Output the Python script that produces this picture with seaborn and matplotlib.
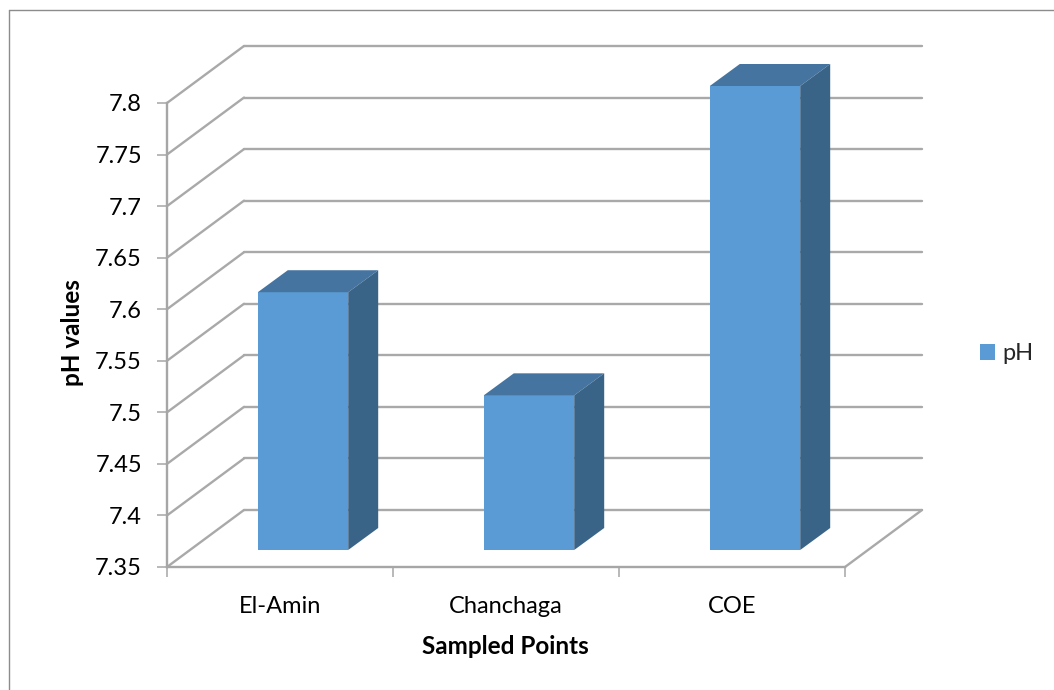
import matplotlib
matplotlib.use("Agg")
import matplotlib.pyplot as plt
import pandas as pd
import seaborn as sns
from matplotlib.lines import Line2D
from matplotlib.patches import Polygon
from matplotlib.transforms import Affine2D

# Sampled values
sites = ["El-Amin", "Chanchaga", "COE"]
ph_values = [7.6, 7.5, 7.8]
y_ticks = [7.35, 7.4, 7.45, 7.5, 7.55, 7.6, 7.65, 7.7, 7.75, 7.8]
y_tick_labels = ["7.35", "7.4", "7.45", "7.5", "7.55", "7.6", "7.65", "7.7", "7.75", "7.8"]

W, H = 1054, 690
DPI = 100
FRONT = "#5B9BD5"
TOP = "#44749F"
SIDE = "#3A6487"
GRID = "#A9A9A9"
AXIS = "#A6A6A6"
FRAME = "#8C8C8C"
TEXT_SIZE = 17

sns.set_theme(style="white")
plt.rcParams["font.family"] = ["Lato", "DejaVu Sans"]

fig = plt.figure(figsize=(W / DPI, H / DPI), dpi=DPI, facecolor="white")
left, right, top, bottom = 167, 845, 103, 567
ax = fig.add_axes([left / W, 1 - bottom / H, (right - left) / W, (bottom - top) / H])

df = pd.DataFrame({"site": sites, "pH": ph_values})
sns.barplot(data=df, x="site", y="pH", color=FRONT, saturation=1, width=0.4,
            label="pH", ax=ax, zorder=3, linewidth=0, edgecolor="none")
ax.set_xlim(-0.5, 2.5)
ax.set_ylim(y_ticks[0], y_ticks[-1])
base = y_ticks[0]


def shifted(dx, dy):
    """Data transform moved by a pixel offset (screen y points up)."""
    return ax.transData + Affine2D().translate(dx, dy)


# Depth of the box and of the columns inside it, in pixels
wall_depth = (77, 57)
wall = shifted(*wall_depth)
bar_front = (23, 17)
bar_depth = (30, 22)


def depth_edge(x, y):
    """Slanted line running from the front plane to the back wall."""
    p0 = ax.transData.transform((x, y))
    line = Line2D([p0[0], p0[0] + wall_depth[0]], [p0[1], p0[1] + wall_depth[1]],
                  transform=None, color=GRID, lw=1.7, zorder=1, clip_on=False)
    ax.add_artist(line)


# Back wall gridlines and the slanted lines joining them to the value axis
for tick in y_ticks:
    ax.plot([-0.5, 2.5], [tick, tick], transform=wall, color=GRID, lw=1.7,
            clip_on=False, zorder=1, solid_capstyle="round")
    depth_edge(-0.5, tick)

# Right edge of the floor
depth_edge(2.5, base)

# Columns: the front comes from the bar plot, top and side faces are added around it
front_tf = shifted(*bar_front)
for patch, value in zip(ax.patches, ph_values):
    patch.set_y(base)
    patch.set_height(value - base)
    patch.set_transform(front_tf)
    patch.set_clip_on(False)
    x0 = patch.get_x()
    x1 = x0 + patch.get_width()
    a = front_tf.transform((x0, value))
    b = front_tf.transform((x1, value))
    c = front_tf.transform((x1, base))
    dx, dy = bar_depth
    ax.add_patch(Polygon([a, b, (b[0] + dx, b[1] + dy), (a[0] + dx, a[1] + dy)],
                         closed=True, transform=None, facecolor=TOP, edgecolor="none",
                         zorder=3, clip_on=False))
    ax.add_patch(Polygon([b, c, (c[0] + dx, c[1] + dy), (b[0] + dx, b[1] + dy)],
                         closed=True, transform=None, facecolor=SIDE, edgecolor="none",
                         zorder=3, clip_on=False))

# Axes
for name in ("top", "right"):
    ax.spines[name].set_visible(False)
for name in ("left", "bottom"):
    ax.spines[name].set_color(AXIS)
    ax.spines[name].set_linewidth(1.7)
    ax.spines[name].set_zorder(2)

ax.set_yticks(y_ticks, y_tick_labels)
ax.set_xticks([-0.5, 0.5, 1.5, 2.5], ["", "", "", ""])
ax.set_xticks([0, 1, 2], sites, minor=True)
ax.tick_params(axis="y", which="major", left=True, length=7, width=1.1, color=AXIS,
               pad=11, labelsize=TEXT_SIZE, labelcolor="black")
ax.tick_params(axis="x", which="major", bottom=True, length=7, width=1.1, color=AXIS)
ax.tick_params(axis="x", which="minor", bottom=False, length=0, pad=21, labelsize=TEXT_SIZE,
               labelcolor="black")

ax.set_xlabel("Sampled Points", fontsize=17.5, fontweight="bold", color="black")
ax.set_ylabel("pH values", fontsize=17.5, fontweight="bold", color="black")
ax.xaxis.set_label_coords((505 - left) / (right - left), (bottom - 646) / (bottom - top),
                          transform=ax.transAxes)
ax.yaxis.set_label_coords((73 - left) / (right - left), (bottom - 333) / (bottom - top),
                          transform=ax.transAxes)
ax.xaxis.label.set_verticalalignment("center")
ax.yaxis.label.set_verticalalignment("center")

ax.legend(loc="center left", bbox_to_anchor=(980 / W, 1 - 354 / H),
          bbox_transform=fig.transFigure, frameon=False, fontsize=TEXT_SIZE,
          handlelength=0.635, handleheight=0.635, handletextpad=0.3,
          borderpad=0, borderaxespad=0)

# Outer chart frame
fig.add_artist(Line2D([9 / W, 1], [1 - 9.5 / H, 1 - 9.5 / H], color=FRAME, lw=1))
fig.add_artist(Line2D([9 / W, 9 / W], [0, 1 - 9.5 / H], color=FRAME, lw=1))

fig.savefig("out.png", dpi=DPI, facecolor="white")
